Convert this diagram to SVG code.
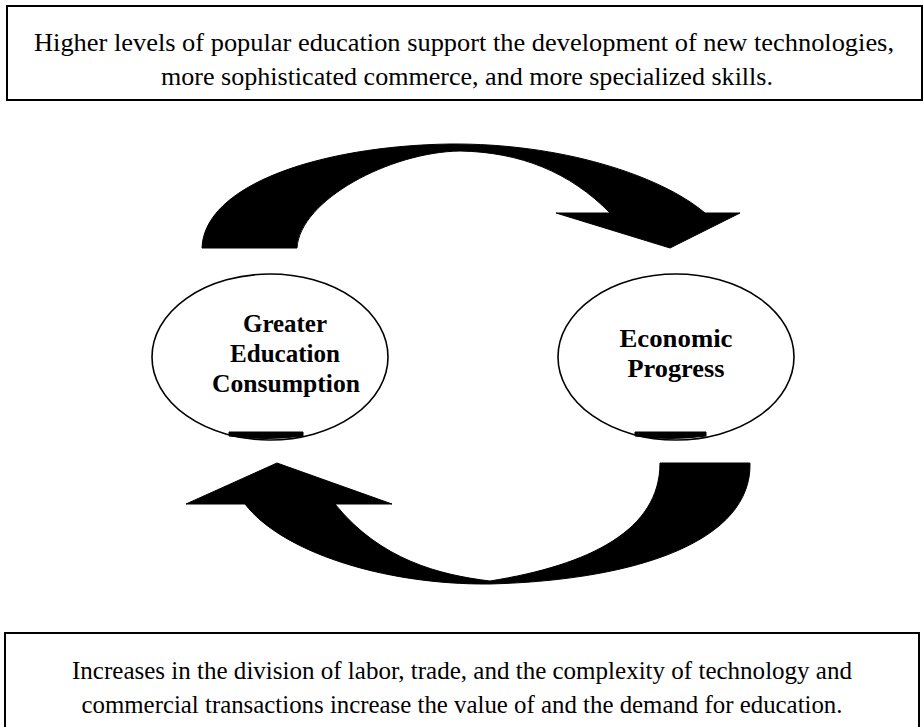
<svg xmlns="http://www.w3.org/2000/svg" width="923" height="727" viewBox="0 0 923 727">
<style>
.box{fill:#fff;stroke:#000;stroke-width:2}
.txt{font-family:"Liberation Serif","Times New Roman",serif;font-size:25px;fill:#000;text-anchor:middle}
.node{fill:#fff;stroke:#000;stroke-width:1.6}
.lbl{font-family:"Liberation Serif","Times New Roman",serif;font-size:25px;font-weight:bold;fill:#000;text-anchor:middle}
.arrow{fill:#000;stroke:#000;stroke-width:1}
</style>
<rect width="923" height="727" fill="#fff"/>
<g id="top-box">
<rect class="box" x="7" y="6" width="915" height="94"/>
<text class="txt" x="464" y="51" textLength="860" lengthAdjust="spacingAndGlyphs">Higher levels of popular education support the development of new technologies,</text>
<text class="txt" x="467" y="85" textLength="612" lengthAdjust="spacingAndGlyphs">more sophisticated commerce, and more specialized skills.</text>
</g>
<g id="bottom-box">
<rect class="box" x="5" y="633" width="914" height="110"/>
<text class="txt" x="462" y="679" textLength="780" lengthAdjust="spacingAndGlyphs">Increases in the division of labor, trade, and the complexity of technology and</text>
<text class="txt" x="462" y="713" textLength="761" lengthAdjust="spacingAndGlyphs">commercial transactions increase the value of and the demand for education.</text>
</g>
<g id="connectors">
<path id="arrow-top" class="arrow" d="M202,248 C204,185 320,146 450,144 C560,143 660,175 705,213 L740,213 L670,248 L556,213 L610,213 C570,172 520,152 460,151 C390,152 300,200 297,248 Z"/>
<path id="arrow-bottom" class="arrow" d="M750,463 C752,540 640,580 490,584 C380,585 280,550 245,504 L186,504 L277,463 L392,504 L335,504 C380,560 440,575 490,581 C590,565 660,530 660,463 Z"/>
</g>
<g id="node-education">
<ellipse class="node" cx="270" cy="357" rx="118" ry="83"/>
<path class="arrow" d="M229,432 L303,432 L303,436 Q266,441 229,436 Z"/>
<text class="lbl" x="285" y="332" textLength="84" lengthAdjust="spacingAndGlyphs">Greater</text>
<text class="lbl" x="285" y="362" textLength="110" lengthAdjust="spacingAndGlyphs">Education</text>
<text class="lbl" x="286" y="392" textLength="148" lengthAdjust="spacingAndGlyphs">Consumption</text>
</g>
<g id="node-economic">
<ellipse class="node" cx="676" cy="357" rx="118" ry="83"/>
<path class="arrow" d="M635,432 L706,432 L706,436 Q670,441 635,436 Z"/>
<text class="lbl" x="676" y="347" textLength="113" lengthAdjust="spacingAndGlyphs">Economic</text>
<text class="lbl" x="676" y="377" textLength="97" lengthAdjust="spacingAndGlyphs">Progress</text>
</g>
</svg>
